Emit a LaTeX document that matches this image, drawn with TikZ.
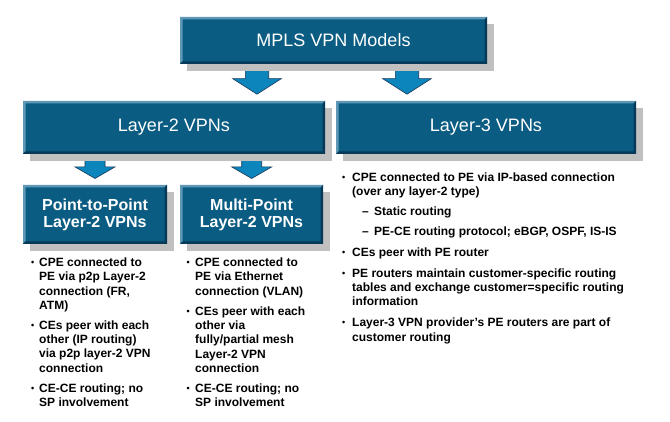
\documentclass[tikz,border=0pt]{standalone}
\usepackage{fontspec}
\setmainfont{Liberation Sans}
\usetikzlibrary{shadows,calc,backgrounds}
\definecolor{boxfill}{RGB}{10,92,130}
\definecolor{bevlight}{RGB}{95,152,182}
\definecolor{bevdark}{RGB}{6,58,88}
\definecolor{shadowgray}{RGB}{192,192,192}
\definecolor{arrowfill}{RGB}{12,132,188}
\definecolor{arrowline}{RGB}{25,55,85}
\newcommand\bevw{2.5pt}
\newcommand\itemfont{\fontsize{12}{14.3}\selectfont\bfseries}
\newcommand\bul[1]{\llap{\raisebox{1pt}{\fontsize{9}{9}\selectfont\textbullet}\hspace{#1}}}
\newcommand\dsh{\llap{\textendash\hspace{5.5pt}}}
\newcommand\lines[1]{\begin{tabular}[t]{@{}l@{}}#1\end{tabular}}
\tikzset{
  vbox/.style={rectangle, inner sep=0pt, fill=boxfill, text=white, align=center,
    drop shadow={shadow xshift=7pt, shadow yshift=-7pt, fill=shadowgray, opacity=1},
    path picture={
      \fill[bevlight] (path picture bounding box.south west) -- (path picture bounding box.north west)
        -- (path picture bounding box.north east) -- ([shift={(-\bevw,-\bevw)}]path picture bounding box.north east)
        -- ([shift={(\bevw,-\bevw)}]path picture bounding box.north west) -- ([shift={(\bevw,\bevw)}]path picture bounding box.south west) -- cycle;
      \fill[bevdark] (path picture bounding box.north east) -- (path picture bounding box.south east)
        -- (path picture bounding box.south west) -- ([shift={(\bevw,\bevw)}]path picture bounding box.south west)
        -- ([shift={(-\bevw,\bevw)}]path picture bounding box.south east) -- ([shift={(-\bevw,-\bevw)}]path picture bounding box.north east) -- cycle;
    }},
  bigtitle/.style={font=\fontsize{18}{21}\selectfont},
  subtitle/.style={font=\fontsize{16}{17}\selectfont\bfseries},
  blockarrow/.style={fill=arrowfill, draw=arrowline, line width=0.6pt, line join=miter},
  pics/barrow/.style n args={4}{code={
    \draw[blockarrow] (-#1,0) -- (#1,0) -- (#1,#3) -- (#2,#3) -- (0,#4) -- (-#2,#3) -- (-#1,#3) -- cycle;}},
  item/.style={anchor=base west, inner sep=0pt, font=\itemfont, text=black},
}
\begin{document}
\begin{tikzpicture}[x=1pt, y=-1pt]
\useasboundingbox (0,0) rectangle (670,422);
\node[vbox, bigtitle, minimum width=307pt, minimum height=47pt] (top) at (333.5,40.5) {MPLS VPN Models};
\node[vbox, bigtitle, minimum width=302pt, minimum height=53pt] (l2) at (174,127.5) {Layer-2 VPNs};
\node[vbox, bigtitle, minimum width=300pt, minimum height=53pt] (l3) at (486,127.5) {Layer-3 VPNs};
\node[vbox, subtitle, minimum width=144pt, minimum height=59pt] (p2p) at (95,214.5) {Point-to-Point\\Layer-2 VPNs};
\node[vbox, subtitle, minimum width=143pt, minimum height=59pt] (mp) at (251.5,214.5) {Multi-Point\\Layer-2 VPNs};

\begin{scope}[on background layer]
\fill[white] (0,0) rectangle (670,422);
\path (257,0 |- top.south) pic {barrow={11.7}{24.3}{14.5}{30}};
\path (407,0 |- top.south) pic {barrow={11.7}{24.3}{14.5}{30}};
\path (95,0 |- l2.south) pic {barrow={10}{20}{12.7}{24.3}};
\path (251.7,0 |- l2.south) pic {barrow={10}{20}{12.7}{24.3}};
\end{scope}

% left column
\node[item] (a1) at (39,266.7) {\bul{5pt}\lines{CPE connected to\\PE via p2p Layer-2\\connection (FR,\\ATM)}};
\node[item] (a2) at (39,329.3) {\bul{5pt}\lines{CEs peer with each\\other (IP routing)\\via p2p layer-2 VPN\\connection}};
\node[item] (a3) at (39,392.3) {\bul{5pt}\lines{CE-CE routing; no\\SP involvement}};
% middle column
\node[item] (b1) at (195,266.7) {\bul{5.5pt}\lines{CPE connected to\\PE via Ethernet\\connection (VLAN)}};
\node[item] (b2) at (195,315.3) {\bul{5.5pt}\lines{CEs peer with each\\other via\\fully/partial mesh\\Layer-2 VPN\\connection}};
\node[item] (b3) at (195,392.3) {\bul{5.5pt}\lines{CE-CE routing; no\\SP involvement}};
% right column
\node[item] (c1) at (352,181.7) {\bul{7pt}\lines{CPE connected to PE via IP-based connection\\(over any layer-2 type)}};
\node[item] (c1a) at (374,215.7) {\dsh Static routing};
\node[item] (c1b) at (374,235.7) {\dsh PE-CE routing protocol; eBGP, OSPF, IS-IS};
\node[item] (c2) at (352,256.7) {\bul{7pt}CEs peer with PE router};
\node[item] (c3) at (352,277.3) {\bul{7pt}\lines{PE routers maintain customer-specific routing\\tables and exchange customer=specific routing\\information}};
\node[item] (c4) at (352,326.7) {\bul{7pt}\lines{Layer-3 VPN provider’s PE routers are part of\\customer routing}};
\end{tikzpicture}
\end{document}
